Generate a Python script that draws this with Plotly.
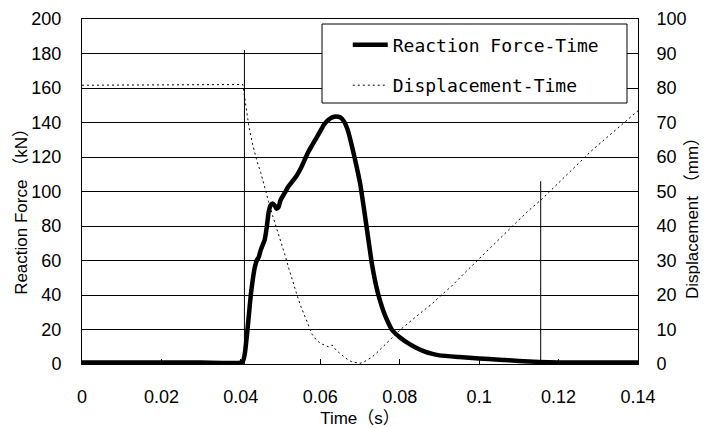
import plotly.graph_objects as go

# ---- data ----
force_time = [0.0, 0.01, 0.02, 0.03, 0.0400, 0.0405, 0.0410, 0.0415, 0.0420, 0.0425,
              0.0430, 0.0435, 0.0440, 0.0445, 0.0450, 0.0455, 0.0460, 0.0465, 0.0470,
              0.0475, 0.0480, 0.0485, 0.0490, 0.0495, 0.0500, 0.0510, 0.0520, 0.0530,
              0.0540, 0.0550, 0.0560, 0.0570, 0.0580, 0.0590, 0.0600, 0.0610, 0.0620,
              0.0630, 0.0640, 0.0650, 0.0660, 0.0670, 0.0680, 0.0690, 0.0700, 0.0710,
              0.0720, 0.0730, 0.0740, 0.0750, 0.0760, 0.0770, 0.0780, 0.0800, 0.0820,
              0.0840, 0.0860, 0.0880, 0.0900, 0.0950, 0.1000, 0.1050, 0.1100, 0.1150,
              0.1200, 0.1300, 0.1400]
force_kN = [0.8, 0.8, 0.8, 0.8, 0.8, 1.5, 6, 16, 28, 40,
            49, 56, 60, 62, 66, 69, 72, 79, 88,
            92, 93, 92, 90, 91, 95, 99, 103, 106,
            109, 113, 118, 123, 127, 131, 135, 139, 141.5,
            143, 143.5, 143, 140.5, 135, 126, 116, 105, 90,
            74, 58, 46, 37, 30, 24.5, 20, 15.5, 12.2,
            9.5, 7.5, 6.0, 5.0, 4.0, 3.2, 2.5, 1.8, 1.2,
            0.9, 0.8, 0.8]

disp_time = [0.0, 0.01, 0.02, 0.03, 0.0405, 0.041, 0.042, 0.043, 0.044, 0.045,
             0.046, 0.047, 0.048, 0.049, 0.050, 0.051, 0.052, 0.053, 0.054, 0.055,
             0.056, 0.057, 0.058, 0.059, 0.060, 0.061, 0.062, 0.063, 0.064, 0.065,
             0.066, 0.067, 0.068, 0.069, 0.070, 0.071, 0.072, 0.073, 0.074, 0.075,
             0.076, 0.077, 0.078, 0.080, 0.082, 0.084, 0.086, 0.088, 0.090, 0.093,
             0.096, 0.100, 0.104, 0.108, 0.112, 0.116, 0.120, 0.124, 0.128, 0.132,
             0.136, 0.140]
disp_mm = [80.8, 80.9, 80.8, 80.9, 81.0, 77, 69, 63.5, 59, 55.5,
           51, 47, 43, 39.5, 36, 32, 28, 24, 20.5, 17,
           14, 11, 8.5, 7, 6, 5.5, 5, 5.5, 4, 3,
           2, 1.2, 0.6, 0.3, 0.2, 0.6, 1.2, 2, 3, 4.2,
           5.2, 6.3, 7.5, 9.8, 11.8, 13.6, 15.5, 17.3, 19.5, 22.5,
           26, 30.5, 35, 39.6, 44, 48, 52.5, 57, 61.5, 65.5,
           69.5, 73.4]

marker_times = [0.0409, 0.1155]
marker_tops_kN = [182, 106]

x_ticks = [0, 0.02, 0.04, 0.06, 0.08, 0.1, 0.12, 0.14]
y_ticks = list(range(0, 201, 20))
y2_ticks = list(range(0, 101, 10))

x_title = "Time（s）"
y_title = "Reaction Force （kN）"
y2_title = "Displacement （mm）"

# ---- figure ----
num_font = dict(family="Liberation Sans, Arial, sans-serif", size=18, color="black")
title_font = dict(family="Liberation Sans, Noto Sans CJK JP, sans-serif", size=17, color="black")

fig = go.Figure()

for t, top in zip(marker_times, marker_tops_kN):
    fig.add_trace(go.Scatter(x=[t, t], y=[0, top], mode="lines",
                             line=dict(color="black", width=1),
                             showlegend=False, hoverinfo="skip"))

fig.add_trace(go.Scatter(x=force_time, y=force_kN, mode="lines",
                         name="Reaction Force-Time", legendgroup="a",
                         line=dict(color="black", width=4.5, shape="spline", smoothing=0.5)))
fig.add_trace(go.Scatter(x=disp_time, y=disp_mm, mode="lines", yaxis="y2",
                         name="Displacement-Time", legendgroup="b",
                         line=dict(color="black", width=1, dash="2px,3px")))

fig.update_layout(
    width=700, height=420,
    margin=dict(l=74, r=70, t=11, b=64, autoexpand=False),
    paper_bgcolor="white", plot_bgcolor="white",
    showlegend=True,
    legend=dict(x=0.478, y=0.978, xanchor="left", yanchor="top",
                bgcolor="rgba(0,0,0,0)", borderwidth=0,
                font=dict(family="DejaVu Sans Mono, monospace", size=18, color="black"),
                tracegroupgap=14, traceorder="grouped", itemwidth=35),
    xaxis=dict(range=[0, 0.14], tickvals=x_ticks, ticks="inside", ticklen=5,
               tickcolor="black", showgrid=False, zeroline=False,
               showline=True, linecolor="black", linewidth=1, mirror=True,
               tickfont=num_font, ticklabelstandoff=16,
               title=dict(text=x_title, font=title_font, standoff=9)),
    yaxis=dict(range=[0, 200], tickvals=y_ticks, ticks="", showgrid=True,
               gridcolor="black", gridwidth=1, zeroline=False,
               showline=True, linecolor="black", linewidth=1,
               tickfont=num_font, ticklabelstandoff=16),
    yaxis2=dict(range=[0, 100], tickvals=y2_ticks, overlaying="y", side="right",
                ticks="", showgrid=False, zeroline=False,
                showline=True, linecolor="black", linewidth=1,
                tickfont=num_font, ticklabelstandoff=14),
    annotations=[
        dict(text=y_title, xref="paper", yref="paper", x=-0.110, y=0.455,
             textangle=-90, showarrow=False, font=title_font,
             xanchor="center", yanchor="middle"),
        dict(text=y2_title, xref="paper", yref="paper", x=1.099, y=0.435,
             textangle=-90, showarrow=False, font=title_font,
             xanchor="center", yanchor="middle"),
    ],
    shapes=[dict(type="rect", xref="paper", yref="paper",
                 x0=0.4317, x1=0.9802, y0=0.7565, y1=0.9855,
                 fillcolor="white", line=dict(color="black", width=1), layer="above")],
)

fig.write_html("out.html")
